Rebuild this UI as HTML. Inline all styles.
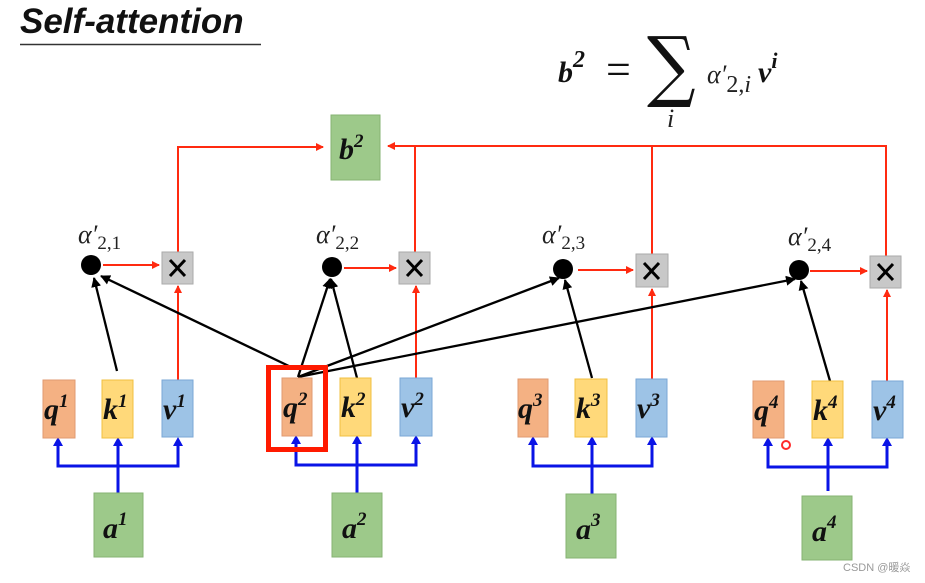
<!DOCTYPE html>
<html><head><meta charset="utf-8"><style>
html,body{margin:0;padding:0;background:#fff;}
svg{display:block;}
.bx{font-family:"Liberation Serif",serif;font-weight:bold;font-style:italic;font-size:30px;fill:#111;}
.sp{font-size:19px;}
.al{font-family:"Liberation Serif",serif;font-style:italic;font-size:26px;fill:#222;}
.as{font-family:"Liberation Serif",serif;font-style:normal;font-size:19px;}
</style></head><body>
<svg width="925" height="583" viewBox="0 0 925 583" xmlns="http://www.w3.org/2000/svg">
<defs>
<marker id="ar" markerWidth="8" markerHeight="8" refX="7" refY="4" orient="auto" markerUnits="userSpaceOnUse"><path d="M0,0 L8,4 L0,8 z" fill="#ff2a10"/></marker>
<marker id="ak" markerWidth="10" markerHeight="10" refX="9" refY="5" orient="auto" markerUnits="userSpaceOnUse"><path d="M0,0 L10,5 L0,10 z" fill="#000"/></marker>
</defs>
<text x="20" y="33" font-family="Liberation Sans,sans-serif" font-weight="bold" font-style="italic" font-size="35" fill="#111">Self-attention</text>
<line x1="20" y1="44.5" x2="261" y2="44.5" stroke="#333" stroke-width="1.5"/>
<text x="558" y="82" class="bx" font-size="40">b<tspan font-size="24" dy="-15">2</tspan></text>
<text x="606" y="84" font-family="Liberation Serif,serif" font-size="44" fill="#111">=</text>
<text x="647" y="92" font-family="DejaVu Serif,serif" font-size="74" fill="#111" transform="translate(647,92) scale(0.92,1.05) translate(-647,-92)">∑</text>
<text x="667" y="127" class="al" font-size="26">i</text>
<text x="707" y="83" class="al" font-size="36">α′<tspan font-size="24" font-style="normal" dy="9">2,</tspan><tspan font-size="24">i</tspan></text>
<text x="758" y="82" class="bx" font-size="36">v<tspan font-size="22" dy="-14">i</tspan></text>
<rect x="331" y="115" width="49" height="65" fill="#9dc98a" stroke="#86b373"/>
<text x="339" y="159" class="bx" font-size="30">b<tspan class="sp" dy="-12">2</tspan></text>
<g stroke="#ff2a10" stroke-width="2" fill="none">
<polyline points="178,252 178,147 323,147" marker-end="url(#ar)"/>
<polyline points="886,256 886,146 388,146" marker-end="url(#ar)"/>
<line x1="415" y1="147" x2="415" y2="252"/>
<line x1="652" y1="147" x2="652" y2="254"/>
<line x1="103" y1="265" x2="159" y2="265" marker-end="url(#ar)"/>
<line x1="344" y1="268" x2="396" y2="268" marker-end="url(#ar)"/>
<line x1="578" y1="270" x2="633" y2="270" marker-end="url(#ar)"/>
<line x1="810" y1="271" x2="867" y2="271" marker-end="url(#ar)"/>
<line x1="178" y1="380" x2="178" y2="286" marker-end="url(#ar)"/>
<line x1="416" y1="378" x2="416" y2="286" marker-end="url(#ar)"/>
<line x1="652" y1="379" x2="652" y2="289" marker-end="url(#ar)"/>
<line x1="887" y1="381" x2="887" y2="290" marker-end="url(#ar)"/>
</g>
<g>
<rect x="162" y="252" width="31" height="32" fill="#c8c8c8" stroke="#aaa"/>
<rect x="399" y="252" width="31" height="32" fill="#c8c8c8" stroke="#aaa"/>
<rect x="636" y="254" width="32" height="33" fill="#c8c8c8" stroke="#aaa"/>
<rect x="870" y="256" width="31" height="32" fill="#c8c8c8" stroke="#aaa"/>
</g>
<g stroke="#000" stroke-width="3">
<path d="M170,260 L185,276 M185,260 L170,276"/>
<path d="M407,260 L422,276 M422,260 L407,276"/>
<path d="M644,263 L659,279 M659,263 L644,279"/>
<path d="M878,264 L893,280 M893,264 L878,280"/>
</g>
<circle cx="91" cy="265" r="10" fill="#000"/>
<circle cx="332" cy="267" r="10" fill="#000"/>
<circle cx="563" cy="269" r="10" fill="#000"/>
<circle cx="799" cy="270" r="10" fill="#000"/>
<text x="78" y="243" class="al">α′<tspan class="as" dy="6">2,1</tspan></text>
<text x="316" y="243" class="al">α′<tspan class="as" dy="6">2,2</tspan></text>
<text x="542" y="243" class="al">α′<tspan class="as" dy="6">2,3</tspan></text>
<text x="788" y="245" class="al">α′<tspan class="as" dy="6">2,4</tspan></text>
<g stroke="#000" stroke-width="2.3" fill="none">
<line x1="117" y1="371" x2="94" y2="278" marker-end="url(#ak)"/>
<line x1="293" y1="368" x2="101" y2="276" marker-end="url(#ak)"/>
<line x1="298" y1="377" x2="330" y2="279" marker-end="url(#ak)"/>
<line x1="357" y1="378" x2="331" y2="279" marker-end="url(#ak)"/>
<line x1="298" y1="377" x2="559" y2="278" marker-end="url(#ak)"/>
<line x1="298" y1="377" x2="795" y2="279" marker-end="url(#ak)"/>
<line x1="592" y1="378" x2="565" y2="280" marker-end="url(#ak)"/>
<line x1="830" y1="381" x2="801" y2="281" marker-end="url(#ak)"/>
</g>
<g stroke="#0a14e6" stroke-width="3" fill="none">
<polyline points="58,440 58,466 178,466 178,440"/>
<line x1="118" y1="493" x2="118" y2="442"/>
<polyline points="296,438 296,465 416,465 416,438"/>
<line x1="357" y1="493" x2="357" y2="440"/>
<polyline points="533,439 533,466 652,466 652,439"/>
<line x1="592" y1="494" x2="592" y2="441"/>
<polyline points="768,440 768,467 887,467 887,440"/>
<line x1="828" y1="491" x2="828" y2="442"/>
</g>
<g fill="#0a14e6">
<path d="M53,446 L58,437 L63,446z M113,446 L118,437 L123,446z M173,446 L178,437 L183,446z"/>
<path d="M291,444 L296,435 L301,444z M352,444 L357,435 L362,444z M411,444 L416,435 L421,444z"/>
<path d="M528,445 L533,436 L538,445z M587,445 L592,436 L597,445z M647,445 L652,436 L657,445z"/>
<path d="M763,446 L768,437 L773,446z M823,446 L828,437 L833,446z M882,446 L887,437 L892,446z"/>
</g>
<g>
<rect x="43" y="380" width="32" height="58" fill="#f4b183" stroke="#e09a70"/>
<rect x="102" y="380" width="31" height="58" fill="#ffd97a" stroke="#f0c040"/>
<rect x="162" y="380" width="31" height="57" fill="#9dc3e6" stroke="#7aa7d6"/>
<rect x="282" y="378" width="30" height="58" fill="#f4b183" stroke="#e09a70"/>
<rect x="340" y="378" width="31" height="58" fill="#ffd97a" stroke="#f0c040"/>
<rect x="400" y="378" width="32" height="58" fill="#9dc3e6" stroke="#7aa7d6"/>
<rect x="518" y="379" width="30" height="58" fill="#f4b183" stroke="#e09a70"/>
<rect x="575" y="379" width="32" height="58" fill="#ffd97a" stroke="#f0c040"/>
<rect x="636" y="379" width="31" height="58" fill="#9dc3e6" stroke="#7aa7d6"/>
<rect x="753" y="381" width="31" height="57" fill="#f4b183" stroke="#e09a70"/>
<rect x="812" y="381" width="31" height="57" fill="#ffd97a" stroke="#f0c040"/>
<rect x="872" y="381" width="31" height="57" fill="#9dc3e6" stroke="#7aa7d6"/>
</g>
<rect x="268.5" y="367.5" width="57" height="82" fill="none" stroke="#ff1a00" stroke-width="5"/>
<g class="bx">
<text x="44" y="419">q<tspan class="sp" dy="-12">1</tspan></text>
<text x="103" y="419">k<tspan class="sp" dy="-12">1</tspan></text>
<text x="163" y="419">v<tspan class="sp" dy="-12">1</tspan></text>
<text x="283" y="417">q<tspan class="sp" dy="-12">2</tspan></text>
<text x="341" y="417">k<tspan class="sp" dy="-12">2</tspan></text>
<text x="401" y="417">v<tspan class="sp" dy="-12">2</tspan></text>
<text x="518" y="418">q<tspan class="sp" dy="-12">3</tspan></text>
<text x="576" y="418">k<tspan class="sp" dy="-12">3</tspan></text>
<text x="637" y="418">v<tspan class="sp" dy="-12">3</tspan></text>
<text x="754" y="420">q<tspan class="sp" dy="-12">4</tspan></text>
<text x="813" y="420">k<tspan class="sp" dy="-12">4</tspan></text>
<text x="873" y="420">v<tspan class="sp" dy="-12">4</tspan></text>
</g>
<rect x="94" y="493" width="49" height="64" fill="#9dc98a" stroke="#86b373"/>
<rect x="332" y="493" width="50" height="64" fill="#9dc98a" stroke="#86b373"/>
<rect x="566" y="494" width="50" height="64" fill="#9dc98a" stroke="#86b373"/>
<rect x="802" y="496" width="50" height="64" fill="#9dc98a" stroke="#86b373"/>
<g class="bx" font-size="32">
<text x="103" y="538">a<tspan class="sp" dy="-13">1</tspan></text>
<text x="342" y="538">a<tspan class="sp" dy="-13">2</tspan></text>
<text x="576" y="539">a<tspan class="sp" dy="-13">3</tspan></text>
<text x="812" y="541">a<tspan class="sp" dy="-13">4</tspan></text>
</g>
<circle cx="786" cy="445" r="4" fill="none" stroke="#ff2a2a" stroke-width="2"/>
<text x="843" y="571" font-family="Liberation Sans,'Noto Sans CJK SC',sans-serif" font-size="11" fill="#999">CSDN @暖焱</text>
</svg>
</body></html>
